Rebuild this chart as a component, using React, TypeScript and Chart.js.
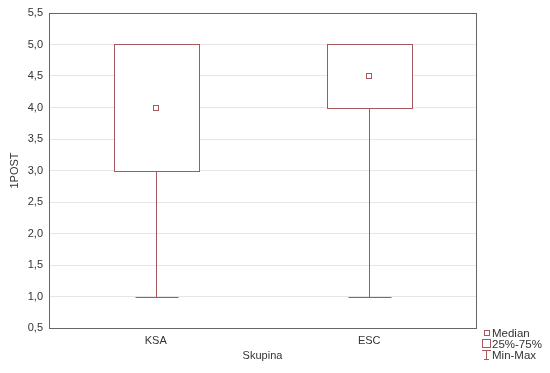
import React, { useEffect, useRef } from "react";
import { Chart, registerables } from "chart.js";

Chart.register(...registerables);

const categories = ["KSA", "ESC"];
const mins = [1.0, 1.0];
const q1s = [3.0, 4.0];
const medians = [4.0, 4.5];
const q3s = [5.0, 5.0];
const maxs = [5.0, 5.0];
const yTicks = [0.5, 1.0, 1.5, 2.0, 2.5, 3.0, 3.5, 4.0, 4.5, 5.0, 5.5];
const legendLabels = ["Median", "25%-75%", "Min-Max"];
const xTitle = "Skupina";
const yTitle = "1POST";

const BOX = "#a8585c";
const FONT = "Arial, 'Liberation Sans', sans-serif";

const px = (v: number) => Math.round(v) + 0.5;

const boxPlugin = {
  id: "boxes",
  afterDatasetsDraw(chart: any) {
    const ctx = chart.ctx;
    const y = chart.scales.y;
    const meta = chart.getDatasetMeta(0);
    ctx.save();
    ctx.strokeStyle = BOX;
    ctx.lineWidth = 1;
    meta.data.forEach((bar: any, i: number) => {
      const cx = px(bar.x);
      const halfBox = bar.width / 2;
      const halfCap = bar.width / 4;
      const yMin = px(y.getPixelForValue(mins[i]));
      const yQ1 = px(y.getPixelForValue(q1s[i]));
      const yQ3 = px(y.getPixelForValue(q3s[i]));
      const yMax = px(y.getPixelForValue(maxs[i]));
      const yMed = y.getPixelForValue(medians[i]);
      ctx.beginPath();
      ctx.moveTo(cx, yMin);
      ctx.lineTo(cx, yQ1);
      ctx.moveTo(cx, yQ3);
      ctx.lineTo(cx, yMax);
      ctx.moveTo(px(cx - halfCap), yMin);
      ctx.lineTo(px(cx + halfCap), yMin);
      ctx.moveTo(px(cx - halfCap), yMax);
      ctx.lineTo(px(cx + halfCap), yMax);
      ctx.stroke();
      const l = px(cx - halfBox);
      const r = px(cx + halfBox);
      ctx.fillStyle = "#fff";
      ctx.fillRect(l, yQ3, r - l, yQ1 - yQ3);
      ctx.strokeRect(l, yQ3, r - l, yQ1 - yQ3);
      const m = Math.round(yMed);
      ctx.strokeRect(cx - 3, m - 2.5, 5, 5);
    });
    ctx.restore();
  },
  afterDraw(chart: any) {
    const ctx = chart.ctx;
    const a = chart.chartArea;
    ctx.save();
    ctx.strokeStyle = "#666";
    ctx.lineWidth = 1;
    ctx.strokeRect(px(a.left), px(a.top), Math.round(a.right - a.left), Math.round(a.bottom - a.top));
    const lx = Math.round(a.right) + 5;
    const ly = Math.round(a.bottom) + 5;
    const step = 11;
    ctx.font = "11.5px " + FONT;
    ctx.fillStyle = "#333";
    ctx.textBaseline = "middle";
    ctx.textAlign = "left";
    const tx = lx + 11;
    legendLabels.forEach((t, i) => ctx.fillText(t, tx, ly + 1 + i * step));
    ctx.strokeStyle = BOX;
    ctx.strokeRect(lx + 3.5, ly - 2.5, 5, 5);
    ctx.strokeRect(lx + 1.5, ly + step - 4.5, 8, 8);
    const wy = ly + 2 * step - 4.5;
    ctx.beginPath();
    ctx.moveTo(lx + 1, wy);
    ctx.lineTo(lx + 10, wy);
    ctx.moveTo(lx + 5.5, wy);
    ctx.lineTo(lx + 5.5, wy + 9);
    ctx.moveTo(lx + 3, wy + 9);
    ctx.lineTo(lx + 8, wy + 9);
    ctx.stroke();
    ctx.restore();
  },
};

export default function App() {
  const ref = useRef<HTMLCanvasElement>(null);
  useEffect(() => {
    if (!ref.current) return;
    const chart = new Chart(ref.current, {
      type: "bar",
      data: {
        labels: categories,
        datasets: [
          {
            type: "bar",
            label: legendLabels[1],
            data: categories.map((_, i) => [q1s[i], q3s[i]]) as any,
            backgroundColor: "rgba(255,255,255,0)",
            borderWidth: 0,
            categoryPercentage: 1,
            barPercentage: 0.4,
          },
        ],
      },
      options: {
        responsive: false,
        animation: false,
        layout: { padding: { left: 0, top: 13, right: 74, bottom: 0 } },
        plugins: { legend: { display: false }, tooltip: { enabled: false } },
        scales: {
          x: {
            type: "category",
            offset: true,
            grid: { display: false, drawTicks: false },
            border: { display: false },
            ticks: { padding: 6, color: "#333", font: { family: FONT, size: 11 } },
            title: { display: true, text: xTitle, color: "#333", font: { family: FONT, size: 11 }, padding: { top: 0, bottom: 10 } },
            afterFit(scale: any) { scale.height = 45; },
          },
          y: {
            type: "linear",
            min: 0.5,
            max: 5.5,
            afterBuildTicks(scale: any) { scale.ticks = yTicks.map((v) => ({ value: v })); },
            grid: { color: "#e6e6e6", drawTicks: false },
            border: { display: false },
            ticks: {
              padding: 6,
              color: "#333",
              font: { family: FONT, size: 11 },
              callback: (v: any) => Number(v).toFixed(1).replace(".", ","),
            },
            title: { display: true, text: yTitle, color: "#333", font: { family: FONT, size: 11 }, padding: { top: 8, bottom: 0 } },
            afterFit(scale: any) { scale.width = 49; },
          },
        },
      },
      plugins: [boxPlugin],
    });
    return () => chart.destroy();
  }, []);
  return (
    <div style={{ position: "absolute", left: 0, top: 0, width: 550, height: 373, background: "#fff" }}>
      <canvas ref={ref} width={550} height={373} />
    </div>
  );
}
